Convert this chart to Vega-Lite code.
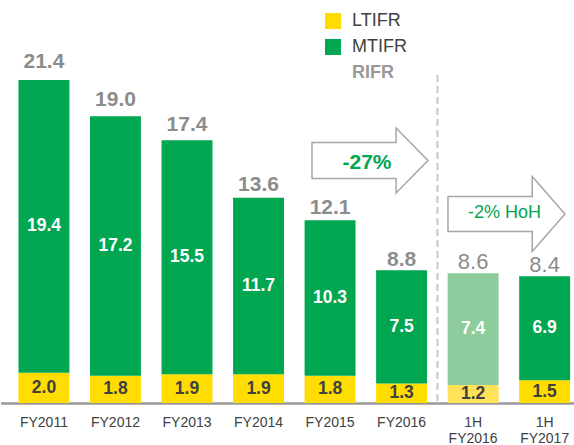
{
  "$schema": "https://vega.github.io/schema/vega-lite/v6.json",
  "width": 574,
  "height": 403,
  "autosize": {"type": "none"},
  "padding": {"left": 0, "top": 0, "right": 0, "bottom": 42},
  "background": "white",
  "config": {"view": {"stroke": null}, "font": "Liberation Sans"},
  "data": {"values": [
    {"period": "FY2011", "LTIFR": 2.0, "MTIFR": 19.4, "RIFR": 21.4, "half": false},
    {"period": "FY2012", "LTIFR": 1.8, "MTIFR": 17.2, "RIFR": 19.0, "half": false},
    {"period": "FY2013", "LTIFR": 1.9, "MTIFR": 15.5, "RIFR": 17.4, "half": false},
    {"period": "FY2014", "LTIFR": 1.9, "MTIFR": 11.7, "RIFR": 13.6, "half": false},
    {"period": "FY2015", "LTIFR": 1.8, "MTIFR": 10.3, "RIFR": 12.1, "half": false},
    {"period": "FY2016", "LTIFR": 1.3, "MTIFR": 7.5, "RIFR": 8.8, "half": false},
    {"period": "1H FY2016", "LTIFR": 1.2, "MTIFR": 7.4, "RIFR": 8.6, "half": true},
    {"period": "1H FY2017", "LTIFR": 1.5, "MTIFR": 6.9, "RIFR": 8.4, "half": true}
  ]},
  "layer": [
    {
      "layer": [
        {
          "transform": [{"fold": ["LTIFR", "MTIFR"], "as": ["key", "value"]}],
          "mark": {"type": "bar"},
          "encoding": {
            "x": {
              "field": "period", "type": "nominal",
              "scale": {"domain": ["FY2011", "FY2012", "FY2013", "FY2014", "FY2015", "FY2016", "1H FY2016", "1H FY2017"], "range": [0.6, 588], "paddingInner": 0.288, "paddingOuter": 0.25},
              "axis": {"title": null, "domainColor": "#999999", "domainWidth": 2.5, "ticks": false, "grid": false, "labelFont": "Liberation Sans", "labelFontSize": 14, "labelColor": "#404040", "labelPadding": 12.5, "labelAngle": 0, "labelBaseline": "top", "labelOverlap": false, "labelExpr": "split(datum.label, ' ')", "labelLineHeight": 16}
            },
            "y": {"field": "value", "type": "quantitative", "stack": "zero", "scale": {"domain": [0, 26.7], "nice": false}, "axis": null},
            "order": {"field": "key"},
            "color": {
              "condition": [
                {"test": "datum.period === '1H FY2016' && datum.key === 'MTIFR'", "value": "#8dcc9c"},
                {"test": "datum.period === '1H FY2016' && datum.key === 'LTIFR'", "value": "#ffe15a"}
              ],
              "field": "key", "type": "nominal",
              "scale": {"domain": ["LTIFR", "MTIFR", "RIFR"], "range": ["#ffdd00", "#00a650", "rgba(0,0,0,0)"]},
              "legend": {
                "title": null, "orient": "none", "legendX": 324, "legendY": 12, "padding": 0,
                "symbolType": "square", "symbolSize": 256, "symbolStrokeWidth": 0,
                "labelFont": "Liberation Sans", "labelFontSize": 18, "labelColor": "#404040", "labelOffset": 10, "rowPadding": 8,
                "encode": {"labels": {"update": {
                  "fontWeight": {"signal": "datum.label === 'RIFR' ? 'bold' : 'normal'"},
                  "fill": {"signal": "datum.label === 'RIFR' ? '#999999' : '#404040'"}
                }}}
              }
            }
          }
        },
        {
          "transform": [{"fold": ["LTIFR", "MTIFR"], "as": ["key", "value"]}],
          "mark": {"type": "text", "fontSize": 17.5, "fontWeight": "bold", "baseline": "middle"},
          "encoding": {
            "x": {"field": "period", "type": "nominal", "scale": {"domain": ["FY2011", "FY2012", "FY2013", "FY2014", "FY2015", "FY2016", "1H FY2016", "1H FY2017"]}},
            "y": {"field": "value", "type": "quantitative", "stack": "zero", "bandPosition": 0.5},
            "detail": {"field": "key"},
            "order": {"field": "key"},
            "text": {"field": "value", "format": ".1f"},
            "color": {"condition": {"test": "datum.key === 'MTIFR'", "value": "#ffffff"}, "value": "#404040"}
          }
        },
        {
          "data": {"values": [{"divider": "half-year"}]},
          "mark": {"type": "rule", "color": "#c8c8c8", "strokeWidth": 2, "strokeDash": [7, 4]},
          "encoding": {
            "x": {"datum": "FY2016", "bandPosition": 1.204},
            "y": {"datum": 21.73},
            "y2": {"datum": 0}
          }
        },
        {
          "data": {"values": [{"arrow": "-27%"}]},
          "mark": {"type": "point", "shape": "M-1,-0.31L0.45,-0.31L0.45,-0.56L1,0L0.45,0.56L0.45,0.31L-1,0.31Z", "size": 13456, "filled": true, "fill": "#ffffff", "stroke": "#a6a6a6", "strokeWidth": 1.5, "opacity": 1},
          "encoding": {
            "x": {"datum": "FY2015", "bandPosition": 1.284},
            "y": {"datum": 16.07}
          }
        },
        {
          "data": {"values": [{"arrow": "-2% HoH"}]},
          "mark": {"type": "point", "shape": "M-1,-0.3L0.44,-0.3L0.44,-0.64L1,0L0.44,0.64L0.44,0.3L-1,0.3Z", "size": 13689, "filled": true, "fill": "#ffffff", "stroke": "#a6a6a6", "strokeWidth": 1.5, "opacity": 1},
          "encoding": {
            "x": {"datum": "1H FY2016", "bandPosition": 1.155},
            "y": {"datum": 12.52}
          }
        },
        {
          "data": {"values": [{"label": "-27%"}]},
          "mark": {"type": "text", "fontSize": 21, "fontWeight": "bold", "color": "#00a650", "baseline": "middle"},
          "encoding": {
            "x": {"datum": "FY2015", "bandPosition": 1.225},
            "y": {"datum": 15.9},
            "text": {"field": "label"}
          }
        },
        {
          "data": {"values": [{"label": "-2% HoH"}]},
          "mark": {"type": "text", "fontSize": 18, "fontWeight": "normal", "color": "#00a650", "baseline": "middle"},
          "encoding": {
            "x": {"datum": "1H FY2016", "bandPosition": 1.116},
            "y": {"datum": 12.59},
            "text": {"field": "label"}
          }
        }
      ]
    },
    {
      "layer": [
        {
          "transform": [{"filter": "!datum.half"}],
          "mark": {"type": "text", "fontSize": 21, "fontWeight": "bold", "color": "#8c8c8c", "baseline": "alphabetic", "dy": 1},
          "encoding": {
            "x": {"field": "period", "type": "nominal", "scale": {"domain": ["FY2011", "FY2012", "FY2013", "FY2014", "FY2015", "FY2016", "1H FY2016", "1H FY2017"]}},
            "y": {"field": "RIFR", "type": "quantitative", "scale": {"domain": [0, 25.7], "nice": false}, "axis": null},
            "text": {"field": "RIFR", "format": ".1f"}
          }
        },
        {
          "transform": [{"filter": "datum.half"}],
          "mark": {"type": "text", "fontSize": 22, "fontWeight": "normal", "color": "#8c8c8c", "baseline": "alphabetic", "dy": 1},
          "encoding": {
            "x": {"field": "period", "type": "nominal", "scale": {"domain": ["FY2011", "FY2012", "FY2013", "FY2014", "FY2015", "FY2016", "1H FY2016", "1H FY2017"]}},
            "y": {"field": "RIFR", "type": "quantitative", "scale": {"domain": [0, 25.7], "nice": false}, "axis": null},
            "text": {"field": "RIFR", "format": ".1f"}
          }
        }
      ]
    }
  ],
  "resolve": {"scale": {"y": "independent"}}
}
